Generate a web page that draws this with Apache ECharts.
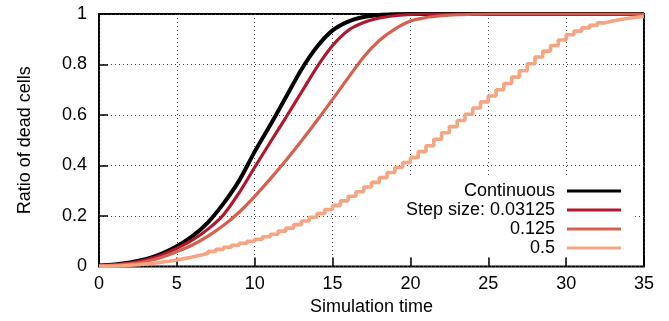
<!DOCTYPE html>
<html>
<head>
<meta charset="utf-8">
<script src="https://cdn.jsdelivr.net/npm/echarts@6/dist/echarts.min.js"></script>
<style>
    html, body { margin: 0; padding: 0; background: #fff; }
    #chart { width: 669px; height: 321px; }
</style>
</head>
<body>
<div id="chart"></div>
<script>
const FONT = '"Liberation Sans", Arial, sans-serif';

const seriesNames = ['Continuous', 'Step size: 0.03125', '0.125', '0.5'];
const seriesColors = ['#000000', '#b2182b', '#d6604d', '#f4a582'];

// sampled once per time unit (smooth curves)
const timeCoarse = [0, 1, 2, 3, 4, 5, 6, 7, 8, 9, 10, 11, 12, 13, 14, 15, 16, 17,
    18, 19, 20, 21, 22, 23, 24, 25, 26, 27, 28, 29, 30, 31, 32, 33, 34, 35];

const continuous = [0.004, 0.008, 0.016, 0.029, 0.05, 0.08, 0.12, 0.175, 0.25, 0.34,
    0.455, 0.56, 0.67, 0.78, 0.87, 0.935, 0.97, 0.988, 0.996, 0.999,
    1, 1, 1, 1, 1, 1, 1, 1, 1, 1, 1, 1, 1, 1, 1, 1];

const step03125 = [0.004, 0.007, 0.014, 0.026, 0.045, 0.072, 0.105, 0.148, 0.205, 0.292,
    0.393, 0.492, 0.59, 0.69, 0.79, 0.875, 0.935, 0.966, 0.984, 0.993,
    0.998, 1, 1, 1, 1, 1, 1, 1, 1, 1, 1, 1, 1, 1, 1, 1];

const step0125 = [0.003, 0.006, 0.011, 0.02, 0.036, 0.059, 0.085, 0.12, 0.163, 0.215,
    0.278, 0.347, 0.42, 0.497, 0.578, 0.662, 0.747, 0.83, 0.895, 0.94,
    0.972, 0.986, 0.993, 0.997, 0.999, 1, 1, 1, 1, 1, 1, 1, 1, 1, 1, 1];

// step size 0.5: one value per visible stair
const timeFine = [0, 0.5, 1, 1.5, 2, 2.5, 3, 3.5, 4, 4.5, 5, 5.5, 6, 6.5, 7, 7.5, 8, 8.5,
    9, 9.5, 10, 10.5, 11, 11.5, 12, 12.5, 13, 13.5, 14, 14.5, 15, 15.5, 16, 16.5,
    17, 17.5, 18, 18.5, 19, 19.5, 20, 20.5, 21, 21.5, 22, 22.5, 23, 23.5, 24, 24.5,
    25, 25.5, 26, 26.5, 27, 27.5, 28, 28.5, 29, 29.5, 30, 30.5, 31, 31.5, 32, 32.5,
    33, 33.5, 34, 34.5, 35];

const step05 = [0.001, 0.002, 0.003, 0.005, 0.007, 0.01, 0.013, 0.017, 0.021, 0.026,
    0.032, 0.038, 0.045, 0.052, 0.06, 0.068, 0.076, 0.084, 0.092, 0.1,
    0.108, 0.118, 0.128, 0.14, 0.152, 0.166, 0.18, 0.195, 0.21, 0.226,
    0.242, 0.26, 0.278, 0.296, 0.315, 0.333, 0.352, 0.372, 0.392, 0.412,
    0.432, 0.455, 0.478, 0.504, 0.53, 0.554, 0.578, 0.603, 0.628, 0.652,
    0.675, 0.7, 0.725, 0.75, 0.775, 0.803, 0.83, 0.853, 0.875, 0.897,
    0.918, 0.932, 0.945, 0.955, 0.965, 0.972, 0.978, 0.983, 0.987, 0.99, 0.992];

function pairs(xs, ys) {
    return xs.map((x, i) => [x, ys[i]]);
}

const lineWidths = [4, 3.2, 3.2, 3.6];
const seriesData = [
    pairs(timeCoarse, continuous),
    pairs(timeCoarse, step03125),
    pairs(timeCoarse, step0125),
    pairs(timeFine, step05),
];

const gridLine = {
    show: true,
    lineStyle: { color: '#444', width: 1, type: [1, 3] },
};

const series = seriesNames.map((name, i) => {
    const s = {
        name: name,
        type: 'line',
        data: seriesData[i],
        color: seriesColors[i],
        symbol: 'none',
        lineStyle: { width: lineWidths[i], color: seriesColors[i] },
        emphasis: { disabled: true },
        z: 2 + i,
    };
    if (i === 3) {
        s.step = 'end';
    } else {
        s.smooth = 0.3;
    }
    return s;
});

const option = {
    animation: false,
    textStyle: { fontFamily: FONT },
    grid: {
        left: 99,
        right: 25,
        top: 14,
        bottom: 54.5,
        show: true,
        borderColor: '#000',
        borderWidth: 2,
        outerBoundsMode: 'none',
    },
    xAxis: {
        type: 'value',
        min: 0,
        max: 35,
        interval: 5,
        name: 'Simulation time',
        nameLocation: 'middle',
        nameGap: 32,
        nameTextStyle: { fontSize: 18, color: '#000', fontFamily: FONT },
        axisLine: { show: false },
        axisTick: { inside: true, length: 9, lineStyle: { color: '#000', width: 1.5 } },
        axisLabel: { fontSize: 18, color: '#000', margin: 9, fontFamily: FONT },
        splitLine: gridLine,
    },
    yAxis: {
        type: 'value',
        min: 0,
        max: 1,
        interval: 0.2,
        name: 'Ratio of dead cells',
        nameLocation: 'middle',
        nameGap: 65,
        nameTextStyle: { fontSize: 18, color: '#000', fontFamily: FONT },
        axisLine: { show: false },
        axisTick: { inside: true, length: 9, lineStyle: { color: '#000', width: 1.5 } },
        axisLabel: { fontSize: 18, color: '#000', margin: 12, fontFamily: FONT },
        splitLine: gridLine,
    },
    legend: {
        orient: 'vertical',
        right: 37,
        top: 178,
        align: 'right',
        z: 1,
        backgroundColor: '#fff',
        padding: [4, 11, 0, 47],
        itemGap: 1,
        itemWidth: 54,
        itemHeight: 3,
        icon: 'rect',
        selectedMode: false,
        textStyle: { fontSize: 18, color: '#000', fontFamily: FONT, padding: [0, 7, 0, 0] },
        data: seriesNames,
    },
    series: series,
};

const chart = echarts.init(document.getElementById('chart'), null, { renderer: 'canvas' });
chart.setOption(option);
</script>
</body>
</html>
